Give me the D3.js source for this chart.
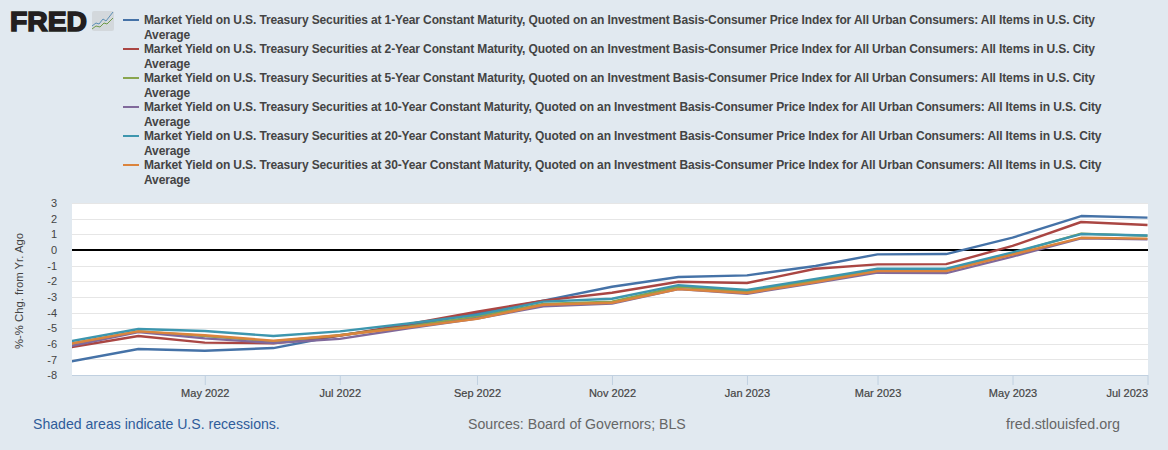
<!DOCTYPE html>
<html>
<head>
<meta charset="utf-8">
<style>
html, body { margin:0; padding:0; background:#e1e9f0; overflow:hidden; }
text { font-family:"Liberation Sans", Arial, sans-serif; }
</style>
</head>
<body>
<div id="chart"></div>
<script src="https://d3js.org/d3.v7.min.js" charset="utf-8"></script>
<script>

var months = ["2022-03","2022-04","2022-05","2022-06","2022-07","2022-08","2022-09","2022-10","2022-11","2022-12",
              "2023-01","2023-02","2023-03","2023-04","2023-05","2023-06","2023-07"];

var year1  = [-7.14,-6.33,-6.44,-6.27,-5.45,-4.85,-4.05,-3.24,-2.35,-1.73,-1.62,-1.02,-0.28,-0.26,0.79,2.17,2.07];
var year2  = [-6.22,-5.50,-5.92,-5.97,-5.48,-4.75,-3.95,-3.24,-2.73,-2.03,-2.11,-1.20,-0.92,-0.90,0.26,1.79,1.60];
var year5  = [-6.00,-5.20,-5.50,-5.85,-5.45,-4.90,-4.25,-3.45,-3.30,-2.35,-2.65,-1.95,-1.25,-1.25,-0.20,1.05,0.90];
var year10 = [-6.15,-5.25,-5.65,-5.95,-5.68,-5.00,-4.38,-3.60,-3.43,-2.50,-2.80,-2.10,-1.45,-1.48,-0.42,0.75,0.68];
var year20 = [-5.85,-5.05,-5.18,-5.50,-5.20,-4.70,-4.15,-3.30,-3.12,-2.25,-2.55,-1.85,-1.20,-1.20,-0.15,1.02,0.93];
var year30 = [-6.00,-5.20,-5.45,-5.80,-5.45,-4.95,-4.40,-3.50,-3.37,-2.50,-2.75,-2.05,-1.35,-1.35,-0.30,0.78,0.73];

var seriesValues = [year1, year2, year5, year10, year20, year30];
var seriesColors = ["#4572a7","#aa4643","#89a54e","#80699b","#3d96ae","#db843d"];
var maturities = ["1","2","5","10","20","30"];

var yTicks = [3,2,1,0,-1,-2,-3,-4,-5,-6,-7,-8];
var xTicks = ["2022-05","2022-07","2022-09","2022-11","2023-01","2023-03","2023-05","2023-07"];

var width = 1168, height = 450;
var left = 72, right = 1148, top_ = 203, bottom = 375;
var parseMonth = d3.timeParse("%Y-%m");

var svg = d3.select("#chart").append("svg")
  .attr("width", width)
  .attr("height", height)
  .style("display", "block");

// Logo
svg.append("text")
  .text("FRED")
  .attr("x", 10).attr("y", 31)
  .attr("textLength", 77).attr("lengthAdjust", "spacingAndGlyphs")
  .style("font-size", "28px").style("font-weight", "bold")
  .style("fill", "#231f20").style("stroke", "#231f20").style("stroke-width", 1.6);
svg.append("rect")
  .attr("x", 92).attr("y", 11).attr("width", 22).attr("height", 20).attr("rx", 2)
  .style("fill", "#d3d8dc");
svg.append("path")
  .attr("d", "M92,26 l4,-3 l3,1 l4,-5 l3,2 l7,-9")
  .style("fill", "none").style("stroke", "#5b8fb5").style("stroke-width", 1);
svg.append("path")
  .attr("d", "M92,29 l4,-3 l4,1 l4,-4 l3,1 l6,-6")
  .style("fill", "none").style("stroke", "#6f9a4a").style("stroke-width", 1);

// Legend
var legend = svg.append("g").selectAll("g")
  .data(maturities)
  .join("g")
  .attr("transform", function(d, i) { return "translate(0," + (i * 29) + ")"; });
legend.append("line")
  .attr("x1", 123).attr("x2", 139).attr("y1", 20).attr("y2", 20)
  .style("stroke", function(d, i) { return seriesColors[i]; })
  .style("stroke-width", 2);
legend.append("text")
  .attr("x", 144).attr("y", 24)
  .text(function(d) { return "Market Yield on U.S. Treasury Securities at " + d + "-Year Constant Maturity, Quoted on an Investment Basis-Consumer Price Index for All Urban Consumers: All Items in U.S. City"; });
legend.append("text")
  .attr("x", 144).attr("y", 39)
  .text("Average");
legend.selectAll("text")
  .style("font-size", "12px").style("font-weight", "bold").style("fill", "#444444")
  .style("letter-spacing", "-0.125px");

// Plot
svg.append("rect")
  .attr("x", left).attr("y", top_)
  .attr("width", right - left).attr("height", bottom - top_)
  .style("fill", "#ffffff");

var x = d3.scaleTime()
  .domain([new Date(2022, 2, 2), parseMonth("2023-07")])
  .range([left, right - 0.5]);
var y = d3.scaleLinear().domain([0, 1]).range([250, 250 - 15.64]);

// Grid
svg.append("g").selectAll("line")
  .data(yTicks)
  .join("line")
  .attr("x1", left).attr("x2", right)
  .attr("y1", function(d) { return Math.round(y(d)) + 0.5; })
  .attr("y2", function(d) { return Math.round(y(d)) + 0.5; })
  .style("stroke", "#e6e6e6").style("stroke-width", 1);

// Axes
var xAxis = svg.append("g")
  .attr("transform", "translate(0," + bottom + ")")
  .call(d3.axisBottom(x)
    .tickValues(xTicks.map(parseMonth))
    .tickSize(10)
    .tickPadding(4)
    .tickFormat(d3.timeFormat("%b %Y")));
xAxis.select(".domain").remove();
xAxis.append("line")
  .attr("x1", left).attr("x2", right).attr("y1", 0.5).attr("y2", 0.5)
  .style("stroke", "#c0d0e0");
xAxis.selectAll(".tick line").style("stroke", "#c0d0e0");
xAxis.selectAll(".tick text")
  .style("font-size", "11px").style("font-family", "'Liberation Sans', Arial, sans-serif")
  .style("fill", "#444444").style("stroke", "#444444").style("stroke-width", 0.2);
xAxis.selectAll(".tick:last-of-type text").attr("text-anchor", "end").attr("dx", 0);

var yAxis = svg.append("g")
  .attr("transform", "translate(" + left + ",0)")
  .call(d3.axisLeft(y)
    .tickValues(yTicks)
    .tickSize(0)
    .tickPadding(15)
    .tickFormat(function(d) { return d < 0 ? "-" + Math.abs(d) : d; }));
yAxis.select(".domain").remove();
yAxis.selectAll(".tick text")
  .style("font-size", "11px").style("font-family", "'Liberation Sans', Arial, sans-serif")
  .style("fill", "#444444");

svg.append("text")
  .text("%-% Chg. from Yr. Ago")
  .attr("transform", "translate(23,291) rotate(-90)")
  .style("text-anchor", "middle")
  .style("font-size", "11.3px")
  .style("fill", "#444444");

// Lines
svg.append("clipPath").attr("id", "plotClip")
  .append("rect")
  .attr("x", left).attr("y", top_)
  .attr("width", right - left).attr("height", bottom - top_);

var line = d3.line()
  .x(function(d, i) { return x(parseMonth(months[i])); })
  .y(function(d) { return y(d); });

// Zero line
svg.append("line")
  .attr("x1", x.range()[0]).attr("x2", right)
  .attr("y1", y(0)).attr("y2", y(0))
  .style("stroke", "#000000").style("stroke-width", 2);

svg.append("g")
  .attr("clip-path", "url(#plotClip)")
  .selectAll("path")
  .data(seriesValues)
  .join("path")
  .attr("d", line)
  .style("fill", "none")
  .style("stroke", function(d, i) { return seriesColors[i]; })
  .style("stroke-width", 2.4)
  .style("stroke-linejoin", "round");

// Footer
svg.append("text")
  .text("Shaded areas indicate U.S. recessions.")
  .attr("x", 33).attr("y", 429)
  .style("font-size", "14.1px").style("fill", "#2f5c9a");
svg.append("text")
  .text("Sources: Board of Governors; BLS")
  .attr("x", 468).attr("y", 429)
  .style("font-size", "14.15px").style("fill", "#666666");
svg.append("text")
  .text("fred.stlouisfed.org")
  .attr("x", 1006).attr("y", 429)
  .style("font-size", "14.35px").style("fill", "#666666");

</script>
</body>
</html>
